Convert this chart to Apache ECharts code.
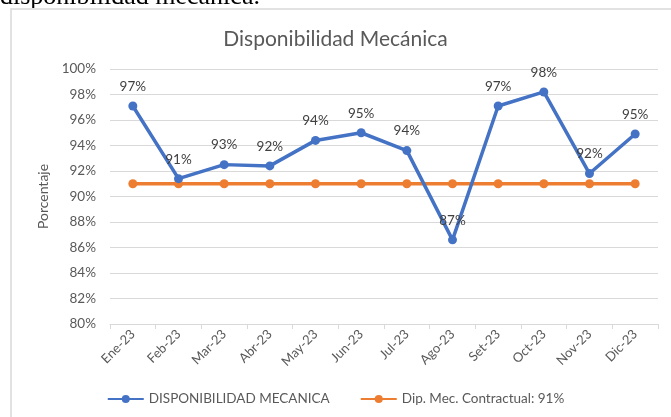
<!DOCTYPE html>
<html>
<head>
<meta charset="utf-8">
<script src="https://cdn.jsdelivr.net/npm/echarts@6/dist/echarts.min.js"></script>
<style>
html,body{margin:0;padding:0;background:#fff;}
#chart{width:671px;height:417px;}
</style>
</head>
<body>
<div id="chart"></div>
<script>
const categories = ['Ene-23','Feb-23','Mar-23','Abr-23','May-23','Jun-23','Jul-23','Ago-23','Set-23','Oct-23','Nov-23','Dic-23'];
const disponibilidad = [97.1, 91.4, 92.5, 92.4, 94.4, 95.0, 93.6, 86.6, 97.1, 98.2, 91.8, 94.9];
const contractual = [91, 91, 91, 91, 91, 91, 91, 91, 91, 91, 91, 91];
const seriesNames = ['DISPONIBILIDAD MECANICA', 'Dip. Mec. Contractual: 91%'];
const titleText = 'Disponibilidad Mecánica';
const yAxisName = 'Porcentaje';
const captionText = 'disponibilidad mecánica.';

const FONT = 'Lato, "Open Sans", sans-serif';
const chart = echarts.init(document.getElementById('chart'), null, {renderer: 'canvas'});
chart.setOption({
  backgroundColor: '#ffffff',
  animation: false,
  textStyle: {fontFamily: FONT},
  graphic: [
    {type: 'rect', shape: {x: 11, y: 9, width: 700, height: 450}, style: {fill: 'none', stroke: '#d9d9d9', lineWidth: 1.5}, silent: true},
    {type: 'text', left: 0, top: -16, z: -1, style: {text: captionText, font: '26px "Liberation Serif", serif', fill: '#000000'}, silent: true},
    {type: 'rect', shape: {x: 0, y: 8, width: 671, height: 6}, z: -0.5, style: {fill: '#ffffff'}, silent: true}
  ],
  title: {
    text: titleText,
    left: 'center',
    top: 24,
    textStyle: {fontFamily: FONT, fontSize: 21, fontWeight: 'normal', color: '#595959'}
  },
  legend: {
    bottom: 6,
    left: 'center',
    itemWidth: 36,
    itemHeight: 10,
    itemGap: 30,
    textStyle: {fontFamily: FONT, fontSize: 13.5, color: '#595959'},
    data: seriesNames
  },
  grid: {left: 110, right: 13, top: 69, bottom: 93, containLabel: false},
  xAxis: {
    type: 'category',
    data: categories,
    boundaryGap: true,
    axisLine: {show: true, lineStyle: {color: '#d9d9d9', width: 1}},
    axisTick: {show: true, alignWithLabel: false, length: 5, lineStyle: {color: '#d9d9d9'}},
    axisLabel: {rotate: 45, color: '#595959', fontSize: 13, margin: 8, interval: 0}
  },
  yAxis: {
    type: 'value',
    min: 80,
    max: 100,
    interval: 2,
    name: yAxisName,
    nameLocation: 'middle',
    nameGap: 58,
    nameTextStyle: {color: '#595959', fontSize: 14, fontFamily: FONT},
    axisLine: {show: false},
    axisTick: {show: false},
    splitLine: {lineStyle: {color: '#d9d9d9', width: 1}},
    axisLabel: {color: '#595959', fontSize: 13.5, margin: 14, formatter: v => v + '%'}
  },
  series: [
    {
      name: seriesNames[0],
      type: 'line',
      data: disponibilidad,
      color: '#4472c4',
      symbol: 'circle',
      symbolSize: 9,
      lineStyle: {width: 3.5, color: '#4472c4'},
      itemStyle: {color: '#4472c4'},
      z: 3,
      label: {
        show: true,
        position: 'top',
        distance: 8,
        color: '#404040',
        fontSize: 13.5,
        fontFamily: FONT,
        formatter: p => Math.round(p.value) + '%'
      }
    },
    {
      name: seriesNames[1],
      type: 'line',
      data: contractual,
      color: '#ed7d31',
      symbol: 'circle',
      symbolSize: 9,
      lineStyle: {width: 3.5, color: '#ed7d31'},
      itemStyle: {color: '#ed7d31'},
      z: 2
    }
  ]
});
</script>
</body>
</html>
